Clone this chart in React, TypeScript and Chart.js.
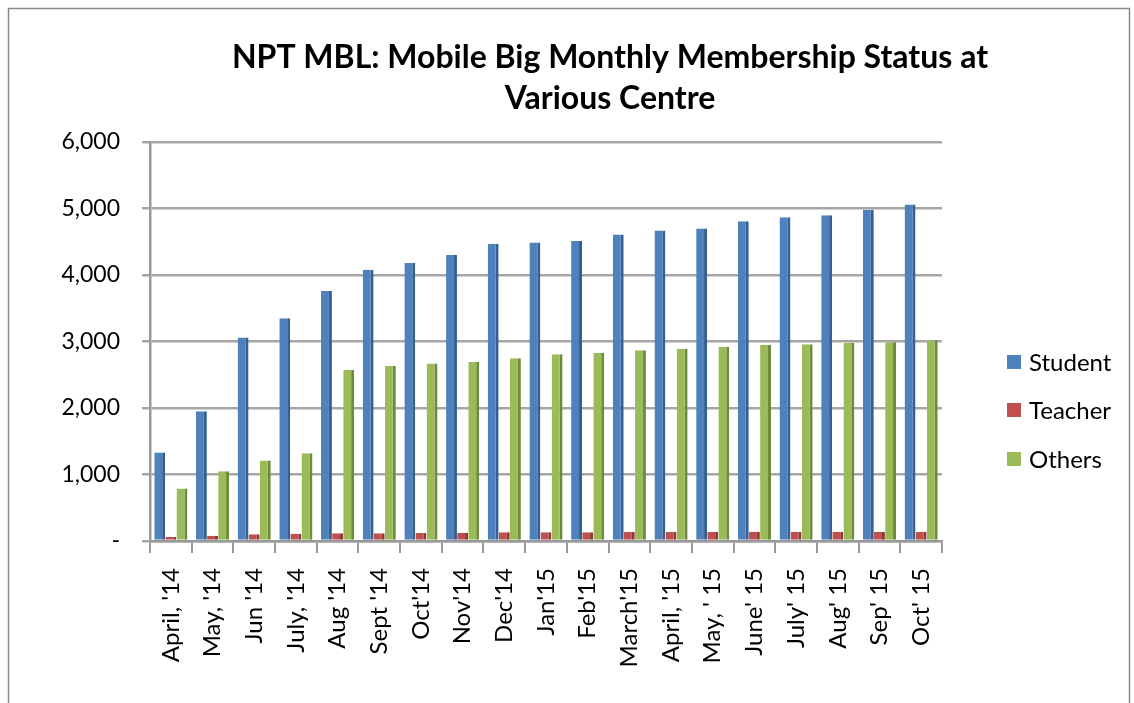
import React, { useEffect, useRef } from "react";
import { Chart, registerables } from "chart.js";

Chart.register(...registerables);

const categories = [
  "April, '14", "May, '14", "Jun '14", "July, '14", "Aug '14", "Sept '14", "Oct'14",
  "Nov'14", "Dec'14", "Jan'15", "Feb'15", "March'15", "April, '15", "May, ' 15",
  "June' 15", "July' 15", "Aug' 15", "Sep' 15", "Oct' 15",
];
const studentValues = [1330, 1950, 3060, 3350, 3760, 4080, 4180, 4300, 4470, 4490, 4510, 4610, 4670, 4700, 4810, 4870, 4900, 4980, 5060];
const teacherValues = [60, 80, 100, 110, 115, 115, 120, 125, 130, 130, 130, 135, 135, 135, 140, 140, 140, 140, 140];
const othersValues = [790, 1050, 1210, 1320, 2570, 2630, 2670, 2690, 2750, 2810, 2830, 2870, 2890, 2920, 2950, 2960, 2980, 2990, 3020];
const titleLines = ["NPT MBL: Mobile Big Monthly Membership Status at", "Various Centre"];
const seriesNames = ["Student", "Teacher", "Others"];
const seriesColors = ["#4F81BD", "#C0504D", "#9BBB59"];
const seriesEdges = ["#35608F", "#8E3A38", "#6E8A3C"];

const FONT = "Lato, 'Open Sans', sans-serif";

const decorPlugin = {
  id: "decor",
  beforeDraw(chart: any) {
    const ctx = chart.ctx;
    ctx.save();
    ctx.fillStyle = "#ffffff";
    ctx.fillRect(0, 0, chart.width, chart.height);
    ctx.strokeStyle = "#8a8a8a";
    ctx.lineWidth = 1.5;
    ctx.strokeRect(8.5, 8.5, 1121, 700);
    ctx.restore();
  },
  afterDraw(chart: any) {
    const ctx = chart.ctx;
    ctx.save();
    ctx.fillStyle = "#000000";
    ctx.textAlign = "center";
    ctx.textBaseline = "middle";
    ctx.font = `bold 32px ${FONT}`;
    ctx.fillText(titleLines[0], 610, 58);
    ctx.fillText(titleLines[1], 610, 99);
    // legend
    ctx.font = `24px ${FONT}`;
    ctx.textAlign = "left";
    const ys = [362, 410, 459];
    chart.data.datasets.forEach((ds: any, i: number) => {
      ctx.fillStyle = ds.backgroundColor;
      ctx.fillRect(1007, ys[i] - 7, 14, 14);
      ctx.fillStyle = "#000000";
      ctx.fillText(ds.label, 1029, ys[i] + 1);
    });
    ctx.restore();
  },
};

export default function App() {
  const ref = useRef<HTMLCanvasElement>(null);
  useEffect(() => {
    if (!ref.current) return;
    const values = [studentValues, teacherValues, othersValues];
    const chart = new Chart(ref.current, {
      type: "bar",
      data: {
        labels: categories,
        datasets: seriesNames.map((name, i) => ({
          label: name,
          data: values[i],
          backgroundColor: seriesColors[i],
          borderColor: seriesEdges[i],
          borderWidth: { top: 0, right: 3, bottom: 0, left: 0 },
          borderSkipped: false,
          categoryPercentage: 0.8,
          barPercentage: 0.98,
        })),
      },
      options: {
        animation: false,
        responsive: false,
        maintainAspectRatio: false,
        layout: { padding: { top: 142, right: 192, bottom: 0, left: 0 } },
        plugins: {
          legend: { display: false },
          title: { display: false },
          tooltip: { enabled: false },
        },
        scales: {
          x: {
            offset: true,
            grid: {
              display: true,
              drawOnChartArea: false,
              drawTicks: true,
              tickLength: 12,
              color: "#999999",
              lineWidth: 2,
              offset: true,
            },
            border: { display: true, color: "#999999", width: 2.5 },
            ticks: {
              autoSkip: false,
              minRotation: 90,
              maxRotation: 90,
              padding: 15,
              color: "#000000",
              font: { family: FONT, size: 24 },
            },
            afterFit(scale: any) {
              scale.height = 162;
            },
          },
          y: {
            min: 0,
            max: 6000,
            ticks: {
              stepSize: 1000,
              padding: 22,
              color: "#000000",
              font: { family: FONT, size: 23 },
              callback: (v: any) => (Number(v) === 0 ? "-" : Number(v).toLocaleString("en-US")),
            },
            grid: {
              color: "#A6A6A6",
              lineWidth: 2.5,
              tickLength: 8,
              drawTicks: true,
            },
            border: { display: true, color: "#999999", width: 2.5 },
            afterFit(scale: any) {
              scale.width = 150;
            },
          },
        },
      },
      plugins: [decorPlugin],
    });
    return () => chart.destroy();
  }, []);
  return (
    <div style={{ position: "absolute", left: 0, top: 0, width: 1134, height: 703 }}>
      <canvas ref={ref} width={1134} height={703} />
    </div>
  );
}
